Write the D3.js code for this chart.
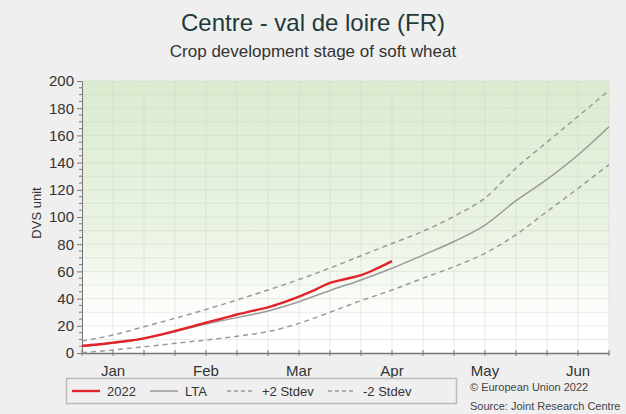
<!DOCTYPE html>
<html>
<head>
<meta charset="utf-8">
<script src="https://cdn.jsdelivr.net/npm/d3@7"></script>
<style>
  body { margin: 0; background: #efefef; }
  svg { display: block; font-family: "Liberation Sans", Arial, sans-serif; }
</style>
</head>
<body>
<svg id="chart" width="626" height="414"></svg>
<script>
// dekad index: 0 = start of Jan, 17 = end of Jun
var monthLabels = ["Jan", "Feb", "Mar", "Apr", "May", "Jun"];
var monthDekads = [1, 4, 7, 10, 13, 16];

var obsDekads = [0, 0.5, 1, 1.5, 2, 2.5, 3, 3.5, 4, 4.5, 5, 5.5, 6, 6.5, 7, 7.5, 8, 8.5, 9, 9.5, 10];
var obs2022 = [5.3, 6.3, 7.6, 9.0, 10.8, 13.3, 16.2, 19.2, 22.3, 25.2, 28.3, 31.0, 33.6, 37.2, 41.4, 46.3, 51.5, 54.4, 57.2, 62.0, 67.6];

var ltaDekads = d3.range(0, 18);
var lta = [4.8, 7.3, 10.5, 15.7, 21.3, 26.0, 30.9, 37.7, 46.0, 53.7, 62.3, 72.0, 82.0, 94.1, 112.0, 127.7, 145.6, 166.4];
var plus2 = [8.8, 13.2, 19.3, 25.5, 32.0, 39.0, 46.3, 54.0, 62.5, 71.5, 80.5, 89.5, 100.5, 114.0, 136.0, 155.0, 174.0, 193.0];
var minus2 = [0.3, 2.2, 4.6, 7.1, 9.5, 12.3, 15.7, 21.8, 30.0, 38.5, 46.3, 55.0, 63.5, 73.3, 87.0, 104.0, 121.0, 138.5];

var svg = d3.select("#chart");
var plotLeft = 82, plotRight = 609, plotTop = 81, plotBottom = 353;

var x = d3.scaleLinear().domain([0, 17]).range([plotLeft, plotRight]);
var y = d3.scaleLinear().domain([0, 200]).range([plotBottom, plotTop]);

// background gradient
var defs = svg.append("defs");
var grad = defs.append("linearGradient")
  .attr("id", "bg-grad")
  .attr("x1", 0).attr("y1", 0).attr("x2", 0).attr("y2", 1);
grad.append("stop").attr("offset", "0%").attr("stop-color", "#dbebcf");
grad.append("stop").attr("offset", "55%").attr("stop-color", "#eaf3e3");
grad.append("stop").attr("offset", "88%").attr("stop-color", "#ffffff");
grad.append("stop").attr("offset", "100%").attr("stop-color", "#ffffff");

svg.append("rect")
  .attr("x", plotLeft).attr("y", plotTop)
  .attr("width", plotRight - plotLeft).attr("height", plotBottom - plotTop)
  .style("fill", "url(#bg-grad)");

// grid
var grid = svg.append("g").attr("id", "grid");
grid.selectAll("line.h")
  .data(d3.range(10, 201, 10))
  .enter().append("line")
  .attr("x1", plotLeft).attr("x2", plotRight)
  .attr("y1", d => y(d)).attr("y2", d => y(d))
  .attr("stroke", "#c9d6c0").attr("stroke-opacity", 0.45);
grid.selectAll("line.v")
  .data(d3.range(1, 18))
  .enter().append("line")
  .attr("y1", plotTop).attr("y2", plotBottom)
  .attr("x1", d => x(d)).attr("x2", d => x(d))
  .attr("stroke", "#cfdac7").attr("stroke-opacity", 0.5);

// titles
svg.append("text")
  .attr("x", 313).attr("y", 31)
  .attr("text-anchor", "middle")
  .style("font-size", "24px").style("fill", "#1f3a3a")
  .text("Centre - val de loire (FR)");
svg.append("text")
  .attr("x", 313).attr("y", 57)
  .attr("text-anchor", "middle")
  .style("font-size", "17px").style("fill", "#333")
  .text("Crop development stage of soft wheat");

// y axis
var yAxis = d3.axisLeft(y).tickValues(d3.range(0, 201, 20)).tickSize(5).tickPadding(3);
var gy = svg.append("g").attr("transform", `translate(${plotLeft},0)`).call(yAxis);
gy.select(".domain").attr("stroke", "#777");
gy.selectAll(".tick line").attr("stroke", "#777");
gy.selectAll(".tick text").style("font-size", "15px").style("fill", "#333").style("font-family", "Liberation Sans, Arial, sans-serif");
svg.append("g").selectAll("line")
  .data(d3.range(0, 201, 5).filter(d => d % 20 !== 0))
  .enter().append("line")
  .attr("x1", plotLeft - 3).attr("x2", plotLeft)
  .attr("y1", d => y(d)).attr("y2", d => y(d))
  .attr("stroke", "#777");

svg.append("text")
  .attr("transform", `translate(41,${(plotTop + plotBottom) / 2 - 4}) rotate(-90)`)
  .attr("text-anchor", "middle")
  .style("font-size", "13px").style("fill", "#333")
  .text("DVS unit");

// x axis
var xAxis = d3.axisBottom(x).tickValues(d3.range(0, 18)).tickSize(0).tickFormat("");
var gx = svg.append("g").attr("transform", `translate(0,${plotBottom})`).call(xAxis);
gx.select(".domain").attr("stroke", "#777").attr("stroke-width", 1.5);
svg.append("g").selectAll("line")
  .data(d3.range(0, 18))
  .enter().append("line")
  .attr("x1", d => x(d)).attr("x2", d => x(d))
  .attr("y1", plotBottom - 3).attr("y2", plotBottom + 3)
  .attr("stroke", "#777");
svg.append("g").selectAll("text")
  .data(monthLabels)
  .enter().append("text")
  .attr("x", (d, i) => x(monthDekads[i]))
  .attr("y", plotBottom + 23)
  .attr("text-anchor", "middle")
  .style("font-size", "15px").style("fill", "#333")
  .text(d => d);

// series
var line = d3.line().curve(d3.curveMonotoneX);
function pts(xs, ys) { return xs.map((d, i) => [x(d), y(ys[i])]); }

svg.append("path").attr("d", line(pts(ltaDekads, plus2)))
  .attr("fill", "none").attr("stroke", "#9a9a9a").attr("stroke-width", 1.5).attr("stroke-dasharray", "5,4");
svg.append("path").attr("d", line(pts(ltaDekads, minus2)))
  .attr("fill", "none").attr("stroke", "#9a9a9a").attr("stroke-width", 1.5).attr("stroke-dasharray", "5,4");
svg.append("path").attr("d", line(pts(ltaDekads, lta)))
  .attr("fill", "none").attr("stroke", "#9a9a9a").attr("stroke-width", 1.5);
svg.append("path").attr("d", line(pts(obsDekads, obs2022)))
  .attr("fill", "none").attr("stroke", "#e3232a").attr("stroke-width", 2.4);

// legend
var legend = svg.append("g").attr("id", "legend");
legend.append("rect")
  .attr("x", 66.5).attr("y", 378.5).attr("width", 390).attr("height", 25)
  .attr("fill", "none").attr("stroke", "#bbb").attr("stroke-width", 1.5);
var legItems = [
  { label: "2022", color: "#e3232a", dash: null, w: 2.4, x0: 72 },
  { label: "LTA", color: "#9a9a9a", dash: null, w: 1.5, x0: 150 },
  { label: "+2 Stdev", color: "#9a9a9a", dash: "4,3", w: 1.5, x0: 227 },
  { label: "-2 Stdev", color: "#9a9a9a", dash: "4,3", w: 1.5, x0: 328 },
];
legItems.forEach(it => {
  legend.append("line")
    .attr("x1", it.x0).attr("x2", it.x0 + 28)
    .attr("y1", 391).attr("y2", 391)
    .attr("stroke", it.color).attr("stroke-width", it.w)
    .attr("stroke-dasharray", it.dash);
  legend.append("text")
    .attr("x", it.x0 + 35).attr("y", 395.5)
    .style("font-size", "13px").style("fill", "#333")
    .text(it.label);
});

svg.append("text").attr("x", 470).attr("y", 391)
  .style("font-size", "11px").style("fill", "#444")
  .text("\u00a9 European Union 2022");
svg.append("text").attr("x", 470).attr("y", 410)
  .style("font-size", "11px").style("fill", "#444")
  .text("Source: Joint Research Centre");
</script>
</body>
</html>
